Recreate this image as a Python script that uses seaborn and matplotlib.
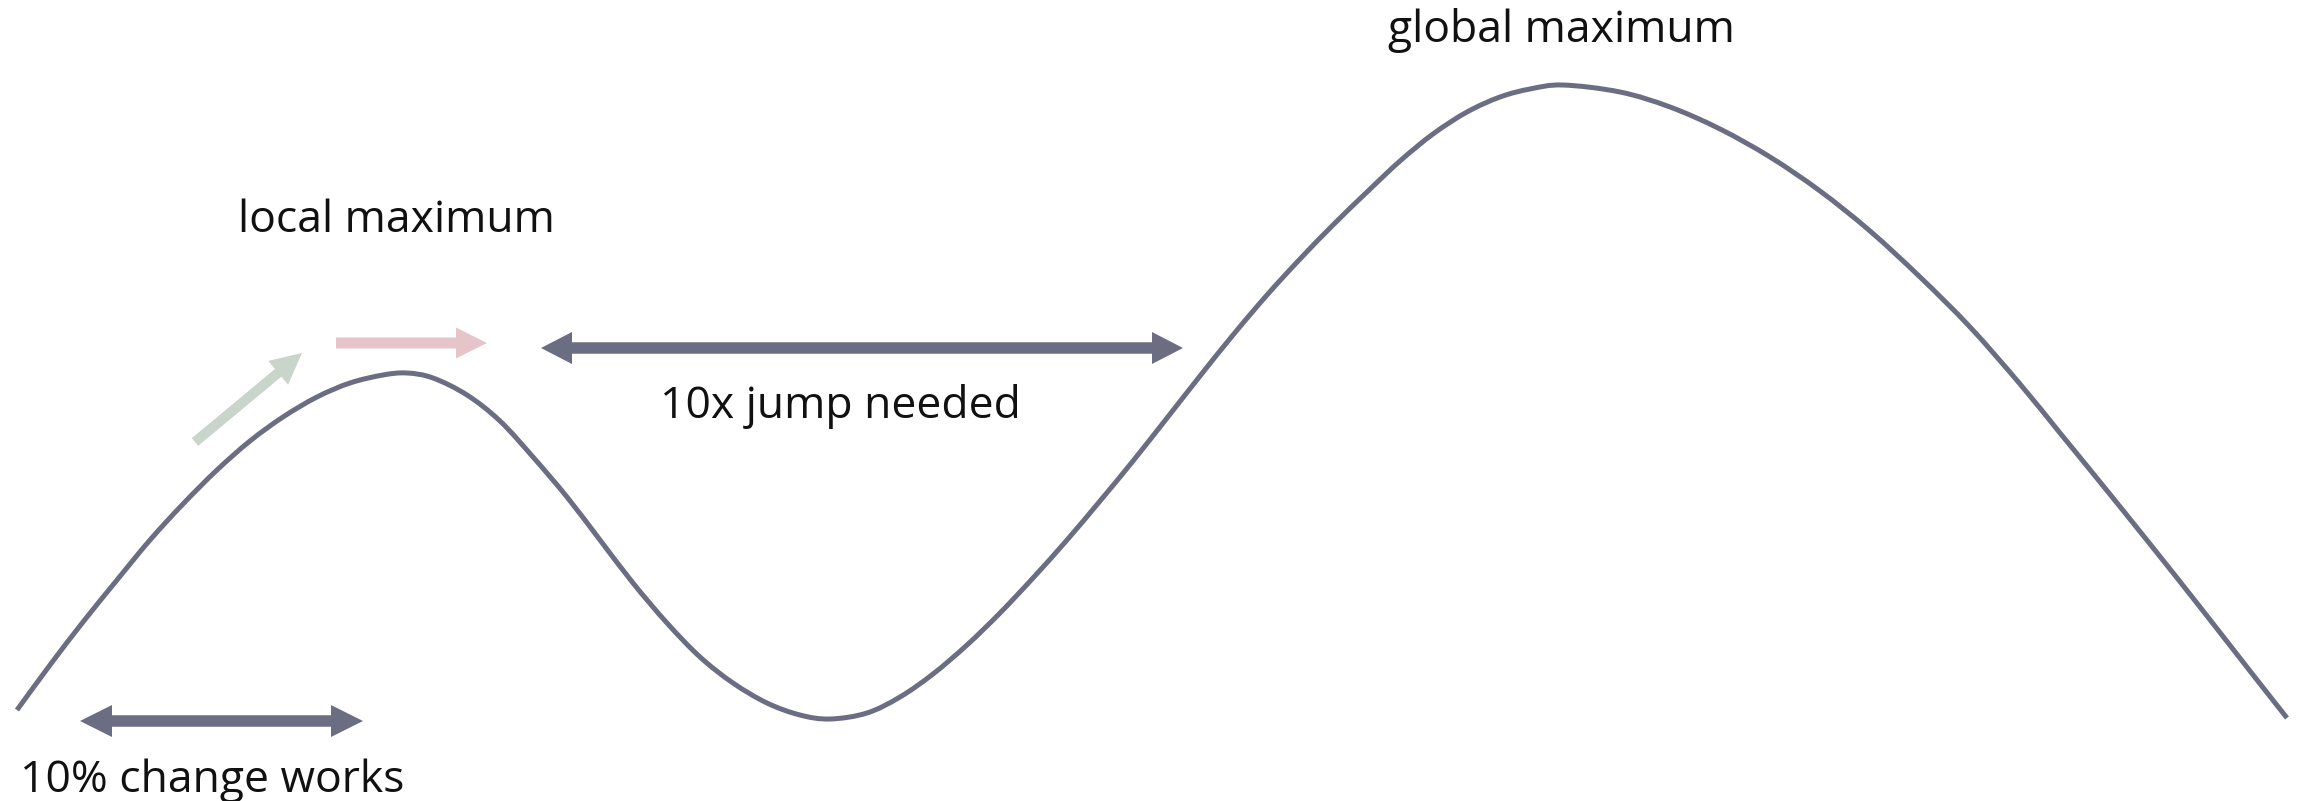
import seaborn as sns
import matplotlib.pyplot as plt
from matplotlib.patches import FancyArrow, PathPatch
from matplotlib.path import Path

# landscape curve (position, height above the bottom edge)
position = [17, 50, 83, 117, 150, 183, 217, 250, 283, 317, 350, 383, 407, 433,
            467, 500, 533, 567, 600, 633, 667, 700, 733, 767, 800, 830, 867,
            900, 933, 967, 1000, 1033, 1067, 1100, 1133, 1167, 1200, 1233, 1267,
            1300, 1333, 1367, 1400, 1433, 1467, 1500, 1530, 1563, 1620, 1670,
            1720, 1770, 1820, 1870, 1920, 1970, 2020, 2060, 2100, 2150, 2200,
            2250, 2287]
height = [91, 136, 179, 221, 261, 297, 331, 360, 384, 404, 418, 426, 428, 423,
          406, 380, 344, 304, 261, 218, 178, 144, 118, 98, 86, 82, 88,
          104, 127, 156, 188, 223, 261, 300, 340, 383, 425, 466, 506,
          542, 576, 609, 640, 667, 689, 704, 712, 716, 709, 694,
          672, 644, 610, 570, 524, 474, 417, 368, 319, 257, 194,
          130, 83]

labels = ['local maximum', 'global maximum', '10x jump needed', '10% change works']

DARK = '#6b6e82'
GREEN = '#c9d4ca'
PINK = '#e5c5c9'

sns.set_theme(style='white')
plt.rcParams['font.family'] = ['Open Sans', 'DejaVu Sans']

fig = plt.figure(figsize=(23.05, 8.01), dpi=100)
ax = fig.add_axes([0, 0, 1, 1])
ax.set_xlim(0, 2305)
ax.set_ylim(0, 801)
ax.set_axis_off()

# smooth line through the read points (catmull-rom drawn as bezier segments)
pts = list(zip(position, height))
verts = [pts[0]]
codes = [Path.MOVETO]
for i in range(len(pts) - 1):
    p0 = pts[max(i - 1, 0)]
    p1 = pts[i]
    p2 = pts[i + 1]
    p3 = pts[min(i + 2, len(pts) - 1)]
    c1 = (p1[0] + (p2[0] - p0[0]) / 6, p1[1] + (p2[1] - p0[1]) / 6)
    c2 = (p2[0] - (p3[0] - p1[0]) / 6, p2[1] - (p3[1] - p1[1]) / 6)
    verts += [c1, c2, p2]
    codes += [Path.CURVE4] * 3
ax.add_patch(PathPatch(Path(verts, codes), facecolor='none', edgecolor=DARK,
                       linewidth=3.6, capstyle='butt'))


def arrow(x0, y0, x1, y1, color, width, hw, hl):
    ax.add_patch(FancyArrow(x0, y0, x1 - x0, y1 - y0, width=width, head_width=hw,
                            head_length=hl, length_includes_head=True,
                            color=color, linewidth=0))


def double_arrow(x0, x1, y, color, width, hw, hl):
    # two heads, shafts overlapping so no seam in the middle
    arrow(x1 - hl, y, x0, y, color, width, hw, hl)
    arrow(x0 + hl, y, x1, y, color, width, hw, hl)


# small step up the hill, then blocked step to the right
arrow(195, 359, 302, 448, GREEN, 10, 31, 31)
arrow(336, 458, 487, 458, PINK, 11, 31, 31)

double_arrow(541, 1183, 453, DARK, 11, 32, 31)
double_arrow(80, 363, 80, DARK, 11, 32, 32)

text_kw = dict(fontsize=32, color='#111111', ha='left', va='baseline')
ax.text(238, 569, labels[0], **text_kw)
ax.text(1388, 759, labels[1], **text_kw)
ax.text(660, 383, labels[2], **text_kw)
ax.text(20, 9, labels[3], **text_kw)

fig.savefig('out.png', dpi=100, facecolor='white')
